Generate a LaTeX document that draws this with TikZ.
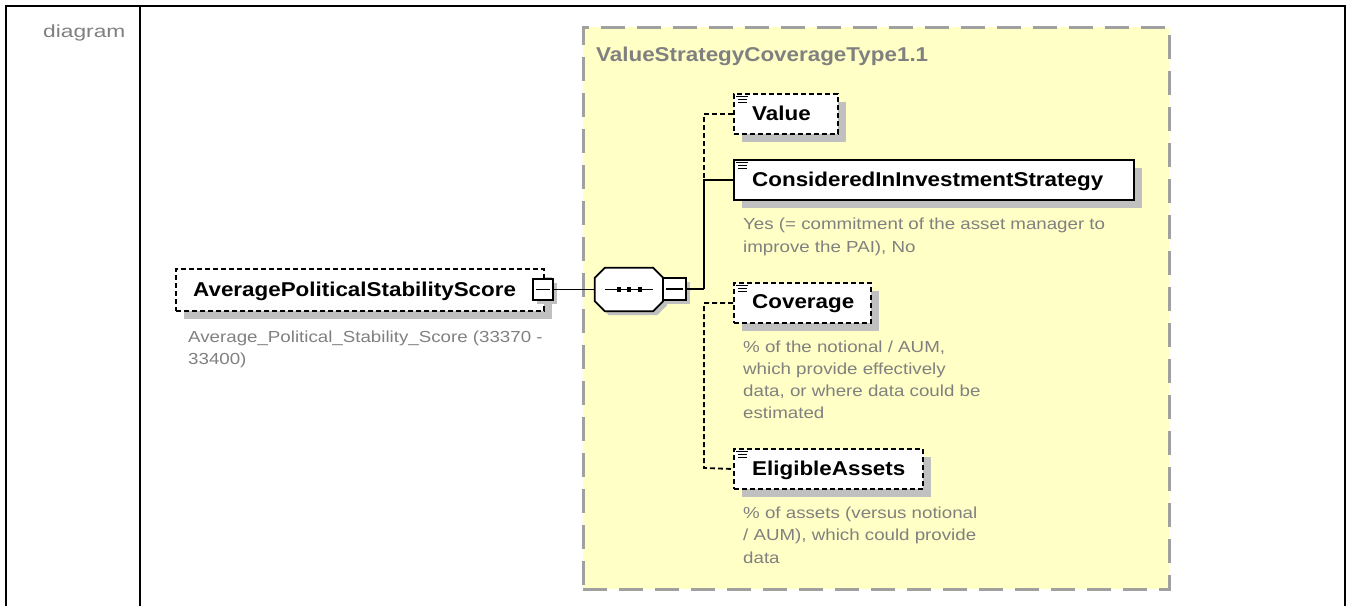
\documentclass[tikz,border=0pt]{standalone}
\usepackage{fontspec}
\setmainfont{Liberation Sans}
\newfontfamily\namefont[FakeStretch=1.12]{Liberation Sans}
\newfontfamily\descfont[FakeStretch=1.17]{Liberation Sans}
\newfontfamily\labfont[FakeStretch=1.3]{Liberation Sans}
\usetikzlibrary{shadows}
\definecolor{ybg}{RGB}{255,255,198}
\definecolor{yborder}{RGB}{160,160,160}
\definecolor{shd}{RGB}{192,192,192}
\definecolor{txtgray}{RGB}{128,128,128}
\newcommand{\octpath}[1]{([xshift=10]#1.north west) -- ([xshift=-10]#1.north east) -- ([yshift=-10]#1.north east) -- ([yshift=10]#1.south east) -- ([xshift=-10]#1.south east) -- ([xshift=10]#1.south west) -- ([yshift=10]#1.south west) -- ([yshift=-10]#1.north west) -- cycle}
\begin{document}
\begin{tikzpicture}[x=1pt,y=1pt,
  frame/.style={line width=2.2, black},
  ename/.style={anchor=base west, inner sep=0, font=\namefont\bfseries\fontsize{20}{24}\selectfont},
  desc/.style={anchor=base west, inner sep=0, text=txtgray, font=\descfont\fontsize{16}{22}\selectfont},
  ebox/.style={draw=black, line width=2, fill=white, anchor=north west, inner sep=0, minimum height=40,
    drop shadow={shadow xshift=8pt, shadow yshift=-8pt, fill=shd, opacity=1}},
  opt/.style={dash pattern=on 5pt off 3pt},
  conn/.style={line width=1.8, black},
  minusbox/.style={draw=black, line width=2.2, fill=white, inner sep=0,
    drop shadow={shadow xshift=4pt, shadow yshift=-4pt, fill=shd, opacity=1}},
  ctype/.style={draw=yborder, fill=ybg, line width=2.5, dash pattern=on 24pt off 12pt, anchor=north west, inner sep=0},
  octbase/.style={draw=none, inner sep=0, minimum width=68, minimum height=43},
]
\useasboundingbox (0,0) rectangle (1346,-606);

% table frame
\coordinate (tl) at (6,-6);
\coordinate (tr) at (1345,-6);
\coordinate (bl) at (6,-606);
\coordinate (br) at (1345,-606);
\coordinate (dt) at (140,-6);
\coordinate (db) at (140,-606);
\draw[frame] (bl) -- (tl) -- (tr) -- (br);
\draw[frame] (dt) -- (db);
\node[anchor=base west, inner sep=0, text=txtgray, font=\labfont\fontsize{17.5}{20}\selectfont] (lab) at (43,-37) {diagram};

% complex type box
\node[ctype, minimum width=586, minimum height=562] (ct) at (582,-26) {};
\node[anchor=base west, inner sep=0, text=txtgray, font=\namefont\bfseries\fontsize{20}{24}\selectfont] (cttitle) at (596,-61) {ValueStrategyCoverageType1.1};

% main element
\node[ebox, opt, minimum width=368, minimum height=42] (avg) at (175,-268) {};
\node[ename] (avgt) at (193,-296) {AveragePoliticalStabilityScore};
\node[desc] (avgd1) at (188,-342) {Average\_Political\_Stability\_Score (33370 -};
\node[desc] (avgd2) at (188,-364) {33400)};
\node[minusbox, minimum width=20, minimum height=21] (avgm) at (543,-289.5) {};
\draw[line width=1.6] ([xshift=4]avgm.west) -- ([xshift=-4]avgm.east);

% sequence compositor (octagon)
\node[octbase] (seqs) at (633,-293.5) {};
\fill[shd] \octpath{seqs};
\node[octbase] (seq) at (629,-289.5) {};
\filldraw[fill=white, draw=black, line width=1.8] \octpath{seq};
\draw[line width=1.6] ([xshift=-24]seq.center) -- ([xshift=24]seq.center);
\foreach \dx in {-10,0,11} \fill ([xshift=\dx-2.3, yshift=-2.3]seq.center) rectangle ([xshift=\dx+2.3, yshift=2.3]seq.center);
\node[minusbox, minimum width=23, minimum height=22] (seqm) at (674.5,-289) {};
\draw[line width=1.6] ([xshift=4]seqm.west) -- ([xshift=-4]seqm.east);

\draw[conn] (avgm.east) -- (seq.west);

% children
\node[ebox, opt, minimum width=104] (value) at (733,-93) {};
\node[ename] (valuet) at (752,-120) {Value};

\node[ebox, minimum width=400] (consid) at (733,-159) {};
\node[ename] (considt) at (752,-186) {ConsideredInInvestmentStrategy};
\node[desc] (considd1) at (743,-229) {Yes (= commitment of the asset manager to};
\node[desc] (considd2) at (743,-252) {improve the PAI), No};

\node[ebox, opt, minimum width=137] (cover) at (733,-282) {};
\node[ename] (covert) at (752,-308) {Coverage};
\node[desc] (coverd1) at (743,-352) {\% of the notional / AUM,};
\node[desc] (coverd2) at (743,-374) {which provide effectively};
\node[desc] (coverd3) at (743,-396) {data, or where data could be};
\node[desc] (coverd4) at (743,-418) {estimated};

\node[ebox, opt, minimum width=189] (elig) at (733,-448) {};
\node[ename] (eligt) at (752,-475) {EligibleAssets};
\node[desc] (eligd1) at (743,-518) {\% of assets (versus notional};
\node[desc] (eligd2) at (743,-540) {/ AUM), which could provide};
\node[desc] (eligd3) at (743,-563) {data};

% element icons
\foreach \n in {value,consid,cover,elig}{
  \draw[line width=1] ([xshift=3,yshift=-3]\n.north west) -- ([xshift=15,yshift=-3]\n.north west);
  \draw[line width=1] ([xshift=5,yshift=-6]\n.north west) -- ([xshift=14,yshift=-6]\n.north west);
  \draw[line width=1] ([xshift=5,yshift=-9]\n.north west) -- ([xshift=14,yshift=-9]\n.north west);
}

% connectors
\coordinate (j) at (704,-289);
\coordinate (jv) at (704,-179);
\coordinate (je) at (704,-468);
\draw[conn] (seqm.east) -- (j);
\draw[conn, opt] (value.west) -| (jv);
\draw[conn] (consid.west) -| (j);
\draw[conn, opt] (cover.west) -| (je) -- (elig.west);
\end{tikzpicture}
\end{document}
